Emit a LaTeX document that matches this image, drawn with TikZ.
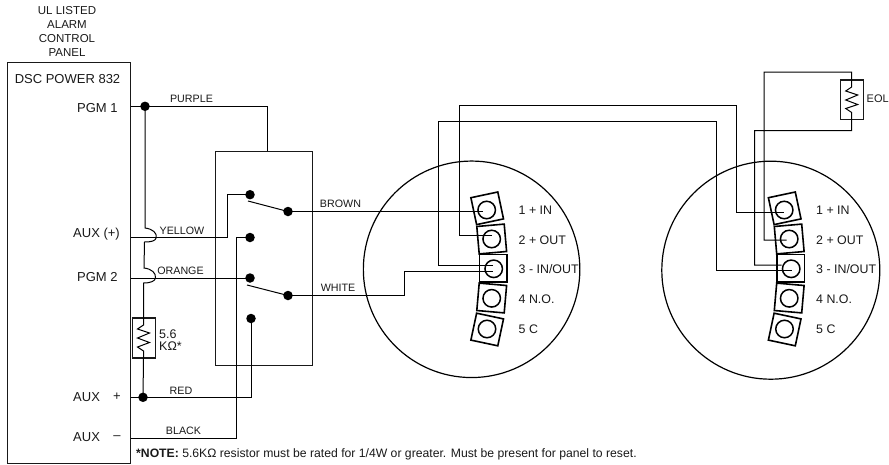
\documentclass[tikz,border=0pt]{standalone}
\usepackage{fontspec}
\setmainfont{Liberation Sans}
\tikzset{
  x=1pt,y=-1pt,
  wire/.style={line width=1pt,draw=black,line join=miter},
  frame/.style={line width=1.4pt,draw=black!90},
  dot/.style={circle,fill=black,draw=none,inner sep=0pt,minimum size=9.5pt},
  big/.style={font=\fontsize{13}{14.2}\selectfont,text=black!90,inner sep=0pt},
  lab/.style={font=\fontsize{10.7}{12}\selectfont,text=black!90,inner sep=0pt},
  term/.style={font=\fontsize{12.4}{14}\selectfont,text=black!90,inner sep=0pt,anchor=west},
  block/.style={draw=black,line width=1.6pt,minimum size=27.5pt,inner sep=0pt,rectangle},
  screw/.style={draw=black,line width=1.5pt,circle,minimum size=17.5pt,inner sep=0pt},
  sensor/.style={draw=black,line width=1.2pt,circle,inner sep=0pt},
  res/.style={draw=black!90,line width=1.4pt,rectangle,inner sep=0pt},
}
\begin{document}
\begin{tikzpicture}
\useasboundingbox (0,0) rectangle (889,464);
% panel
\node[big,align=center,font=\fontsize{11.5}{14}\selectfont] (title) at (67,31) {UL LISTED\\ALARM\\CONTROL\\PANEL};
\node[frame,draw,rectangle,inner sep=0pt,minimum width=122.5pt,minimum height=401pt,anchor=north west] (panel) at (7,61.7) {};
\node[big] (dsc) at (67.5,79) {DSC POWER 832};
\node[big,anchor=west] (pgma) at (77,108) {PGM 1};
\node[big,anchor=west] (auxp) at (73,234) {AUX (+)};
\node[big,anchor=west] (pgmb) at (77,277.5) {PGM 2};
\node[big,anchor=west] (auxa) at (73,397) {AUX};
\node[big] (plus) at (117,397) {+};
\node[big,anchor=west] (auxb) at (73,437.5) {AUX};
\node[big] (minus) at (117,437.5) {–};
% relay box
\node[frame,draw,rectangle,inner sep=0pt,minimum width=97pt,minimum height=214.3pt,anchor=north west] (relay) at (215,150.7) {};
% dots
\node[dot] (da) at (145,106.3) {};
\node[dot] (db) at (143,397.3) {};
\node[dot] (s1) at (250,194.7) {};
\node[dot] (s2) at (250,237.5) {};
\node[dot] (s3) at (250,278) {};
\node[dot] (s4) at (251,318.5) {};
\node[dot] (c1) at (288,211.5) {};
\node[dot] (c2) at (288,295.5) {};
% sensors
\node[sensor,minimum size=216.5pt] (ca) at (471.6,269.3) {};
\node[sensor,minimum size=218pt] (cb) at (770.8,270.2) {};
\foreach \p/\dx in {a/0,b/297.5}{
  \foreach \i/\bx/\by/\ang/\sx/\sy/\ty/\txt in {
    1/487.2/208.3/12/486.7/210/210/{1 + IN},
    2/491.7/239/5/491.7/239/240.5/{2 + OUT},
    3/493.3/268.3/0/493.7/268.8/269.5/{3 - IN/OUT},
    4/491.7/298/-5/491.7/298.3/299/{4 N.O.},
    5/487.2/329.5/-12/487/329/329.5/{5 C}}{
    \node[block,rotate=\ang] (\p b\i) at (\bx+\dx,\by) {};
    \node[screw] (\p s\i) at (\sx+\dx,\sy) {};
    \node[term] (\p t\i) at (518.5+\dx,\ty) {\txt};
  }
}
% connector points
\coordinate (ja) at (145,228);
\coordinate (jb) at (144.5,242);
\coordinate (jc) at (144,268);
\coordinate (jd) at (143.5,283);
\node[res,minimum width=22.6pt,minimum height=40pt] (r1) at (144,338) {};
\node[res,minimum width=22.6pt,minimum height=39.3pt] (r2) at (852,99.7) {};
% panel wires
\draw[wire] (panel.east |- da) -- (da.center) -- (267.3,106.3) -- (267.3,150.7);
\draw[wire] (da.center) -- (ja) .. controls (153,229) and (157,233) .. (156.3,237.7)
   .. controls (155.5,241) and (151,242) .. (jb) -- (jc)
   .. controls (152,269) and (156,273) .. (155.5,278)
   .. controls (155,281) and (151,283) .. (jd) -- (143.5,318);
\draw[wire] (143.5,318) -- (143.5,325) -- (137.5,329) -- (149.5,333) -- (137.5,338) -- (149.5,342.5) -- (137.5,347) -- (143.5,351) -- (143.5,358) -- (db.center);
\draw[wire] (panel.east |- 0,237.7) -- (227,237.7) -- (227,194.7) -- (s1.center);
\draw[wire] (panel.east |- s3) -- (s3.center);
\draw[wire] (panel.east |- db) -- (db.center) -- (251,397.3) -- (s4.center);
\draw[wire] (s2.center) -- (236.7,237.5) -- (236.7,438.3) -- (panel.east |- 0,438.3);
% switch arms
\draw[wire] (248,201) -- (c1.center);
\draw[wire] (247,285) -- (c2.center);
% outputs
\draw[wire] (c1.center) -- (483,211.5);
\draw[wire] (c2.center) -- (404,295.5) -- (404,271) -- (493,271);
% loop wires
\draw[wire] (492,235.3) -- (459.3,235.3) -- (459.3,105.8) -- (736.7,105.8) -- (736.7,212.7) -- (784,212.7);
\draw[wire] (493,265.3) -- (438.3,265.3) -- (438.3,121.7) -- (716.7,121.7) -- (716.7,270) -- (791.7,270);
% EOL
\draw[wire] (786.7,240) -- (764,240) -- (764,72) -- (851.7,72) -- (851.7,87) -- (845.7,91) -- (857.7,95) -- (845.7,100) -- (857.7,104.5) -- (845.7,108.5) -- (851.7,112.5) -- (851.7,130.7) -- (754.7,130.7) -- (754.7,265) -- (781.7,265);
% labels
\node[big,anchor=west,font=\fontsize{12.5}{12.5}\selectfont,align=left] (rv) at (159,340) {5.6\\KΩ*};
\node[big,anchor=west,font=\fontsize{11}{12}\selectfont] (eol) at (866.5,98.5) {EOL};
\node[lab] (lp) at (191.5,99) {PURPLE};
\node[lab] (ly) at (182,231) {YELLOW};
\node[lab] (lo) at (180.5,271) {ORANGE};
\node[lab] (lbr) at (340.5,204) {BROWN};
\node[lab] (lw) at (338,288) {WHITE};
\node[lab] (lr) at (181,391) {RED};
\node[lab] (lb) at (183.5,431) {BLACK};
\node[anchor=west,inner sep=0pt,font=\fontsize{12.2}{13}\selectfont,text=black!90] (note) at (136,454) {\textbf{*NOTE:} 5.6KΩ resistor must be rated for 1/4W or greater. Must be present for panel to reset.};
\end{tikzpicture}
\end{document}
